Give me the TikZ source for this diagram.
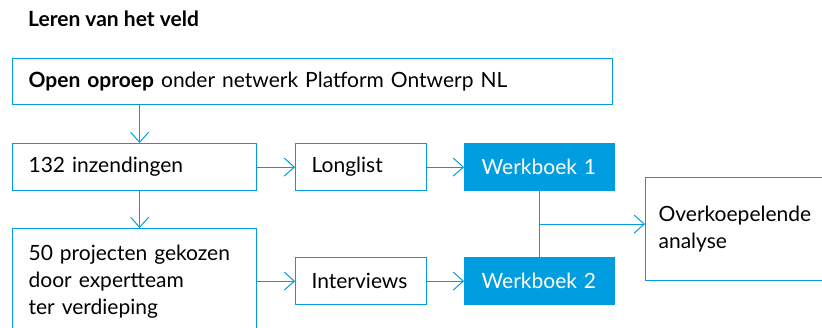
\documentclass[tikz,border=0pt]{standalone}
\usepackage{fontspec}
\setmainfont{Lato}
\usetikzlibrary{arrows.meta,calc}
\definecolor{veldblauw}{RGB}{0,158,224}

\begin{document}
\begin{tikzpicture}[x=1pt,y=-1pt,
    blok/.style={draw=veldblauw, line width=1.2pt, inner xsep=16pt, inner ysep=0pt,
        anchor=north west, align=left, minimum height=47pt,
        font=\fontsize{21}{27}\selectfont},
    vol/.style={blok, fill=veldblauw, text=white},
    pijl/.style={draw=veldblauw, line width=1pt, -{Straight Barb[length=10pt,width=18pt]}}]
    \useasboundingbox (0,0) rectangle (822,328);
    \clip (0,0) rectangle (822,328);
    % titel
    \node[anchor=base west, inner sep=0pt, font=\bfseries\fontsize{21}{27}\selectfont] (titel) at (28,27) {Leren van het veld};
    % blokken
    \node[blok, text width=568pt, minimum height=46pt] (oproep) at (12,58) {\textbf{Open oproep} onder netwerk Platform Ontwerp NL};
    \node[blok, text width=212pt] (inzend) at (12,143) {132 inzendingen};
    \node[blok, text width=212pt, minimum height=106pt] (projecten) at (12,228) {50 projecten gekozen\\door expertteam\\ter verdieping};
    \node[blok, text width=99pt] (longlist) at (295,143) {Longlist};
    \node[blok, text width=99pt] (interviews) at (295,257) {Interviews};
    \node[vol, text width=116pt, inner xsep=17pt] (werkboek1) at (464,143) {Werkboek 1};
    \node[vol, text width=116pt, inner xsep=17pt] (werkboek2) at (464,257) {Werkboek 2};
    \node[blok, text width=174pt, inner xsep=13pt, minimum height=103pt] (analyse) at (645,177) {Overkoepelende\\analyse};
    % pijlen
    \draw[pijl] ([xshift=5pt]inzend.north |- oproep.south) -- ([xshift=5pt]inzend.north);
    \draw[pijl] ([xshift=5pt]inzend.south) -- ([xshift=5pt]projecten.north);
    \draw[pijl] (inzend.east) -- (longlist.west);
    \draw[pijl] (projecten.east |- interviews.west) -- (interviews.west);
    \draw[pijl] (longlist.east) -- (werkboek1.west);
    \draw[pijl] (interviews.east) -- (werkboek2.west);
    \draw[veldblauw, line width=1pt] (werkboek1.south) -- (werkboek2.north);
    \coordinate (samen) at ($(werkboek1.south)!0.5!(werkboek2.north)$);
    \draw[pijl] (samen) -- (samen -| analyse.west);
\end{tikzpicture}
\end{document}
